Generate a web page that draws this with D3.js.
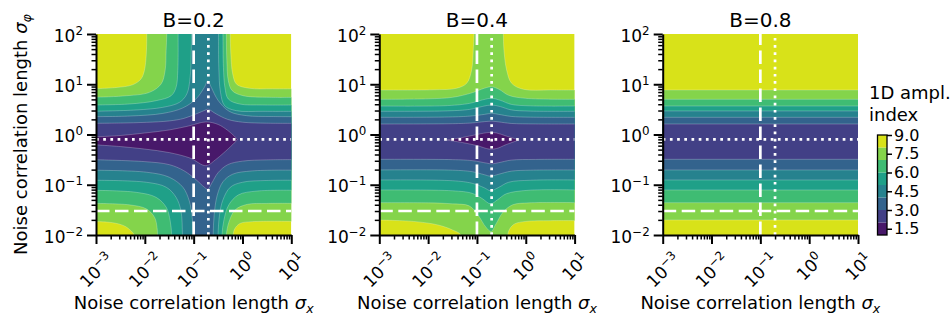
<!DOCTYPE html>
<html>
<head>
<meta charset="utf-8">
<script src="https://cdn.jsdelivr.net/npm/d3@7"></script>
<style>
  body { margin: 0; background: #fff; }
  text { font-family: 'DejaVu Sans', sans-serif; fill: #000; }
</style>
</head>
<body>
<svg id="fig" width="952" height="324"></svg>
<script>
// contour levels of the "1D ampl. index" and colorbar ticks
const levels = [1, 2, 3, 4, 5, 6, 7, 8, 9];
const cbarTicks = [1.5, 3.0, 4.5, 6.0, 7.5, 9.0];
const titles = ['B=0.2', 'B=0.4', 'B=0.8'];
const xMajor = [1e-3, 1e-2, 1e-1, 1e0, 1e1];
const yMajor = [1e-2, 1e-1, 1e0, 1e1, 1e2];
const refX = [0.1, 0.2]; // dashed, dotted
const refY = [0.03, 0.8]; // dashed, dotted

// contour boundaries, as [log10 sigma_x, log10 sigma_phi]
// *Upper[k] / *Lower[k] = upper / lower edge of the region where index < k + 3
const b02Upper = [
  [[-3.1, 0.222], [-2.5, 0.228], [-1.97, 0.242], [-1.5, 0.27], [-1.2, 0.32], [-0.95, 0.41], [-0.75, 0.49], [-0.71, 0.505], [-0.67, 0.49], [-0.54, 0.41], [-0.3, 0.3], [0, 0.245], [0.5, 0.225], [1.1, 0.222]],
  [[-3.1, 0.355], [-2.3, 0.368], [-1.63, 0.42], [-1.22, 0.53], [-0.95, 0.71], [-0.78, 0.94], [-0.71, 1.07], [-0.64, 0.94], [-0.5, 0.68], [-0.27, 0.46], [0.08, 0.375], [0.6, 0.358], [1.1, 0.355]],
  [[-3.1, 0.461], [-2.18, 0.488], [-1.63, 0.541], [-1.29, 0.64], [-1.14, 0.806], [-1.072, 1.138], [-1.051, 1.6], [-1.044, 2.0], [-1.044, 2.3], [-0.49, 2.3], [-0.49, 2.0], [-0.485, 1.337], [-0.45, 0.839], [-0.365, 0.574], [-0.128, 0.474], [0.42, 0.461], [1.1, 0.461]],
  [[-3.1, 0.587], [-2.316, 0.607], [-1.77, 0.673], [-1.46, 0.773], [-1.36, 0.939], [-1.325, 1.27], [-1.318, 2.0], [-1.318, 2.3], [-0.4, 2.3], [-0.4, 2.0], [-0.39, 1.337], [-0.36, 0.939], [-0.29, 0.706], [-0.06, 0.607], [0.42, 0.587], [1.1, 0.587]],
  [[-3.1, 0.74], [-2.45, 0.766], [-1.906, 0.839], [-1.667, 1.005], [-1.585, 1.27], [-1.564, 1.668], [-1.55, 2.0], [-1.55, 2.3], [-0.33, 2.3], [-0.33, 2.0], [-0.32, 1.469], [-0.29, 1.071], [-0.21, 0.872], [0.01, 0.773], [0.56, 0.74], [1.1, 0.74]],
  [[-3.1, 0.91], [-2.59, 0.935], [-2.25, 0.99], [-2.08, 1.104], [-2.01, 1.27], [-1.97, 1.6], [-1.96, 2.0], [-1.96, 2.3], [-0.25, 2.3], [-0.25, 2.0], [-0.238, 1.6], [-0.2, 1.204], [-0.12, 1.0], [0.145, 0.92], [0.62, 0.91], [1.1, 0.91]]
];
const b02Lower = [
  [[-3.1, -0.5], [-2, -0.54], [-1.5, -0.6], [-1.2, -0.72], [-0.95, -0.9], [-0.78, -1.05], [-0.71, -1.09], [-0.63, -0.97], [-0.5, -0.76], [-0.3, -0.6], [0, -0.53], [0.5, -0.505], [1.1, -0.5]],
  [[-3.1, -0.71], [-1.97, -0.75], [-1.5, -0.85], [-1.22, -1.05], [-1.09, -1.32], [-1.03, -1.65], [-1.0, -2.0], [-1.0, -2.3], [-0.6, -2.3], [-0.6, -2.0], [-0.58, -1.6], [-0.52, -1.22], [-0.4, -0.94], [-0.2, -0.79], [0.2, -0.725], [1.1, -0.71]],
  [[-3.1, -0.91], [-1.97, -0.95], [-1.56, -1.05], [-1.36, -1.25], [-1.26, -1.52], [-1.23, -2.0], [-1.23, -2.3], [-0.5, -2.3], [-0.5, -2.0], [-0.47, -1.6], [-0.4, -1.3], [-0.25, -1.05], [0, -0.95], [0.5, -0.915], [1.1, -0.91]],
  [[-3.1, -1.11], [-2.18, -1.15], [-1.77, -1.25], [-1.56, -1.45], [-1.48, -1.72], [-1.45, -2.0], [-1.45, -2.3], [-0.42, -2.3], [-0.42, -2.0], [-0.38, -1.7], [-0.28, -1.4], [-0.08, -1.2], [0.3, -1.125], [1.1, -1.11]],
  [[-3.1, -1.37], [-2.32, -1.4], [-1.97, -1.48], [-1.8, -1.65], [-1.75, -1.85], [-1.74, -2.0], [-1.74, -2.3], [-0.33, -2.3], [-0.33, -2.0], [-0.28, -1.75], [-0.15, -1.5], [0.1, -1.39], [0.5, -1.372], [1.1, -1.37]],
  [[-3.1, -1.73], [-2.66, -1.755], [-2.42, -1.82], [-2.28, -1.92], [-2.22, -2.0], [-2.22, -2.3], [-0.19, -2.3], [-0.19, -2.0], [-0.16, -1.88], [-0.05, -1.77], [0.2, -1.735], [1.1, -1.73]]
];
// region where index < 2
const b02CoreUpper = [[-3.1, -0.05], [-2.5, -0.02], [-2, 0.03], [-1.5, 0.09], [-1.1, 0.17], [-0.75, 0.25], [-0.5, 0.2], [-0.3, 0.08], [-0.17, -0.03], [-0.1, -0.1]];
const b02CoreLower = [[-3.1, -0.2], [-2.5, -0.24], [-2, -0.29], [-1.5, -0.36], [-1.07, -0.47], [-0.75, -0.62], [-0.55, -0.5], [-0.39, -0.37], [-0.2, -0.2], [-0.1, -0.1]];

const b04Upper = [
  [[-3.1, 0.209], [-1.5, 0.215], [-1.1, 0.23], [-0.85, 0.255], [-0.7, 0.265], [-0.55, 0.25], [-0.3, 0.22], [0.2, 0.21], [1.1, 0.209]],
  [[-3.1, 0.342], [-1.5, 0.35], [-1.1, 0.37], [-0.85, 0.4], [-0.7, 0.42], [-0.55, 0.4], [-0.3, 0.36], [0.1, 0.345], [1.1, 0.342]],
  [[-3.1, 0.462], [-1.6, 0.47], [-1.15, 0.5], [-0.88, 0.56], [-0.7, 0.587], [-0.52, 0.555], [-0.3, 0.49], [0.1, 0.465], [1.1, 0.462]],
  [[-3.1, 0.567], [-1.6, 0.575], [-1.15, 0.62], [-0.88, 0.69], [-0.7, 0.72], [-0.52, 0.68], [-0.3, 0.6], [0.1, 0.57], [1.1, 0.567]],
  [[-3.1, 0.7], [-2, 0.71], [-1.5, 0.74], [-1.1, 0.83], [-0.85, 0.92], [-0.7, 0.95], [-0.55, 0.9], [-0.35, 0.78], [0, 0.72], [1.1, 0.7]],
  [[-3.1, 0.886], [-1.9, 0.89], [-1.42, 0.92], [-1.21, 1.02], [-1.11, 1.28], [-1.076, 1.68], [-1.061, 2.0], [-1.061, 2.3], [-0.46, 2.3], [-0.46, 2.0], [-0.447, 1.68], [-0.392, 1.284], [-0.29, 1.02], [-0.05, 0.9], [0.5, 0.886], [1.1, 0.886]]
];
const b04Lower = [
  [[-3.1, -0.494], [-1.5, -0.5], [-1.1, -0.52], [-0.8, -0.57], [-0.7, -0.585], [-0.55, -0.56], [-0.3, -0.51], [0.2, -0.496], [1.1, -0.494]],
  [[-3.1, -0.706], [-1.5, -0.71], [-1.1, -0.74], [-0.85, -0.8], [-0.72, -0.83], [-0.55, -0.79], [-0.3, -0.73], [0.1, -0.71], [1.1, -0.706]],
  [[-3.1, -0.905], [-1.5, -0.92], [-1.1, -0.97], [-0.85, -1.06], [-0.72, -1.12], [-0.55, -1.05], [-0.35, -0.95], [0.1, -0.91], [1.1, -0.905]],
  [[-3.1, -1.104], [-1.5, -1.12], [-1.1, -1.17], [-0.9, -1.27], [-0.72, -1.38], [-0.58, -1.3], [-0.4, -1.18], [0.05, -1.11], [1.1, -1.104]],
  [[-3.1, -1.357], [-2, -1.36], [-1.5, -1.38], [-1.16, -1.42], [-0.98, -1.6], [-0.82, -1.84], [-0.71, -1.93], [-0.61, -1.78], [-0.47, -1.55], [-0.27, -1.4], [0.07, -1.36], [1.1, -1.357]],
  [[-3.1, -1.7], [-2.3, -1.73], [-1.8, -1.8], [-1.5, -1.9], [-1.33, -2.0], [-1.33, -2.3], [-0.37, -2.3], [-0.37, -2.0], [-0.33, -1.88], [-0.23, -1.78], [0, -1.73], [0.5, -1.715], [1.1, -1.715]]
];
const b04CoreUpper = [[-1.62, -0.11], [-1.3, -0.06], [-1.0, 0.0], [-0.75, 0.04], [-0.6, 0.03], [-0.4, -0.03], [-0.14, -0.11]];
const b04CoreLower = [[-1.62, -0.11], [-1.3, -0.16], [-1.0, -0.22], [-0.75, -0.29], [-0.6, -0.28], [-0.4, -0.2], [-0.14, -0.11]];

const b08Upper = [
  [[-3.1, 0.209], [1.1, 0.209]],
  [[-3.1, 0.342], [1.1, 0.342]],
  [[-3.1, 0.468], [1.1, 0.468]],
  [[-3.1, 0.567], [1.1, 0.567]],
  [[-3.1, 0.7], [1.1, 0.7]],
  [[-3.1, 0.886], [1.1, 0.886]]
];
const b08Lower = [
  [[-3.1, -0.494], [1.1, -0.494]],
  [[-3.1, -0.706], [1.1, -0.706]],
  [[-3.1, -0.905], [1.1, -0.905]],
  [[-3.1, -1.104], [1.1, -1.104]],
  [[-3.1, -1.357], [1.1, -1.357]],
  [[-3.1, -1.701], [1.1, -1.701]]
];

const panels = [
  { upper: b02Upper, lower: b02Lower, core: [b02CoreUpper, b02CoreLower] },
  { upper: b04Upper, lower: b04Lower, core: [b04CoreUpper, b04CoreLower] },
  { upper: b08Upper, lower: b08Lower, core: null }
];

const LEFT = [96, 379.3, 662.7];
const TOP = 34;
const W = 195.3;
const H = 201;
const FS_TICK = 17;

const svg = d3.select('#fig');
const bandColor = (i) => d3.interpolateViridis((i + 0.5) / (levels.length - 1));

function powLabel(t, v) {
  const e = Math.round(Math.log10(v));
  t.append('tspan').text('10');
  t.append('tspan')
    .attr('dy', -7)
    .attr('font-size', FS_TICK * 0.7)
    .text(e < 0 ? '\u2212' + -e : String(e));
}

function isMinor(v) {
  const l = Math.log10(v);
  return Math.abs(l - Math.round(l)) > 1e-6;
}

panels.forEach((p, pi) => {
  const g = svg
    .append('g')
    .attr('transform', 'translate(' + LEFT[pi] + ',' + TOP + ')');

  const x = d3.scaleLog().domain([1e-3, 1e1]).range([0, W]);
  const y = d3.scaleLog().domain([1e-2, 1e2]).range([H, 0]);

  const line = d3
    .line()
    .x((d) => x(Math.pow(10, d[0])))
    .y((d) => y(Math.pow(10, d[1])))
    .curve(d3.curveCatmullRom.alpha(0.5));

  const region = (up, low) =>
    line(up) + 'L' + line(low.slice().reverse()).slice(1) + 'Z';

  g.append('clipPath')
    .attr('id', 'clip' + pi)
    .append('rect')
    .attr('width', W)
    .attr('height', H);

  const plot = g.append('g').attr('clip-path', 'url(#clip' + pi + ')');

  // top band everywhere, lower bands painted on top
  plot
    .append('rect')
    .attr('width', W)
    .attr('height', H)
    .attr('fill', bandColor(levels.length - 2));

  for (let k = p.upper.length - 1; k >= 0; k--) {
    plot
      .append('path')
      .attr('d', region(p.upper[k], p.lower[k]))
      .attr('fill', bandColor(k + 1))
      .attr('stroke', 'rgba(255,255,255,0.3)')
      .attr('stroke-width', 0.8);
  }
  if (p.core) {
    plot
      .append('path')
      .attr('d', region(p.core[0], p.core[1]))
      .attr('fill', bandColor(0))
      .attr('stroke', 'rgba(255,255,255,0.3)')
      .attr('stroke-width', 0.8);
  }

  // reference lines
  const ref = [
    { x: refX[0], dash: '13.5 5.5' },
    { x: refX[1], dash: '2.7 4.5' },
    { y: refY[0], dash: '13.5 5.5' },
    { y: refY[1], dash: '2.7 4.5' }
  ];
  ref.forEach((r) => {
    const l = plot.append('line');
    if (r.x !== undefined) {
      l.attr('x1', x(r.x)).attr('x2', x(r.x)).attr('y1', H).attr('y2', 0);
    } else {
      l.attr('y1', y(r.y)).attr('y2', y(r.y)).attr('x1', 0).attr('x2', W);
    }
    l.attr('stroke', '#fff')
      .attr('stroke-width', 2.7)
      .attr('stroke-dasharray', r.dash);
  });

  // minor ticks
  g.append('g')
    .attr('transform', 'translate(0,' + H + ')')
    .call(d3.axisBottom(x).tickValues(x.ticks().filter(isMinor)).tickSize(4.5).tickFormat(''))
    .call((a) => a.select('.domain').remove())
    .call((a) => a.selectAll('line').attr('stroke-width', 1.5));
  g.append('g')
    .call(d3.axisLeft(y).tickValues(y.ticks().filter(isMinor)).tickSize(4.5).tickFormat(''))
    .call((a) => a.select('.domain').remove())
    .call((a) => a.selectAll('line').attr('stroke-width', 1.5));

  // major ticks + spines
  const gx = g
    .append('g')
    .attr('transform', 'translate(0,' + H + ')')
    .call(d3.axisBottom(x).tickValues(xMajor).tickSize(9).tickSizeOuter(0).tickFormat(''));
  const gy = g
    .append('g')
    .call(d3.axisLeft(y).tickValues(yMajor).tickSize(9).tickSizeOuter(0).tickFormat(''));
  [gx, gy].forEach((a) => {
    a.select('.domain').attr('stroke-width', 2);
    a.selectAll('line').attr('stroke-width', 2);
    a.selectAll('.tick text').remove();
  });

  // y tick labels
  yMajor.forEach((v) => {
    const t = gy
      .append('text')
      .attr('font-size', FS_TICK)
      .attr('text-anchor', 'end')
      .attr('x', -13)
      .attr('y', y(v) + 7.5);
    powLabel(t, v);
  });

  // x tick labels, rotated 45 degrees
  xMajor.forEach((v) => {
    const t = gx.append('text').attr('font-size', FS_TICK);
    powLabel(t, v);
    const bb = t.node().getBBox();
    const half = (bb.width + bb.height) / (2 * Math.SQRT2);
    t.attr(
      'transform',
      'translate(' + x(v) + ',' + (13 + half) + ') rotate(-45) translate(' +
        -(bb.x + bb.width / 2) + ',' + -(bb.y + bb.height / 2) + ')'
    );
  });

  g.append('text')
    .attr('x', W / 2)
    .attr('y', -7.5)
    .attr('text-anchor', 'middle')
    .attr('font-size', 20)
    .text(titles[pi]);

  const xl = g
    .append('text')
    .attr('x', W / 2)
    .attr('y', 275)
    .attr('text-anchor', 'middle')
    .attr('font-size', 18);
  xl.append('tspan').text('Noise correlation length ');
  xl.append('tspan').attr('font-style', 'italic').text('\u03c3');
  xl.append('tspan')
    .attr('font-style', 'italic')
    .attr('font-size', 12.6)
    .attr('dy', 4)
    .text('x');

  if (pi === 0) {
    const yl = g
      .append('text')
      .attr('transform', 'translate(' + (27 - LEFT[0]) + ',' + H / 2 + ') rotate(-90)')
      .attr('text-anchor', 'middle')
      .attr('font-size', 18);
    yl.append('tspan').text('Noise correlation length ');
    yl.append('tspan').attr('font-style', 'italic').text('\u03c3');
    yl.append('tspan')
      .attr('font-style', 'italic')
      .attr('font-size', 12.6)
      .attr('dy', 4)
      .text('\u03c6');
  }
});

// colorbar
const cb = svg.append('g').attr('transform', 'translate(877.5,135)');
const cbW = 9.5;
const cbH = 100;
const c = d3.scaleLinear().domain([levels[0], levels[levels.length - 1]]).range([cbH, 0]);
cb.selectAll('rect.band')
  .data(levels.slice(0, -1))
  .join('rect')
  .classed('band', true)
  .attr('x', 0)
  .attr('width', cbW)
  .attr('y', (d, i) => c(levels[i + 1]))
  .attr('height', (d, i) => c(levels[i]) - c(levels[i + 1]))
  .attr('fill', (d, i) => bandColor(i));
cb.append('rect')
  .attr('width', cbW)
  .attr('height', cbH)
  .attr('fill', 'none')
  .attr('stroke', '#000')
  .attr('stroke-width', 1.3);
cb.append('g')
  .attr('transform', 'translate(' + cbW + ',0)')
  .call(d3.axisRight(c).tickValues(cbarTicks).tickSize(5).tickPadding(2).tickFormat(d3.format('.1f')))
  .call((a) => a.select('.domain').remove())
  .call((a) => a.selectAll('line').attr('stroke-width', 1.5))
  .call((a) =>
    a.selectAll('text').attr('font-size', 16).attr('font-family', "'DejaVu Sans', sans-serif")
  );

svg.append('text').attr('x', 869).attr('y', 99).attr('font-size', 18).text('1D ampl.');
svg.append('text').attr('x', 869).attr('y', 121).attr('font-size', 18).text('index');
</script>
</body>
</html>
